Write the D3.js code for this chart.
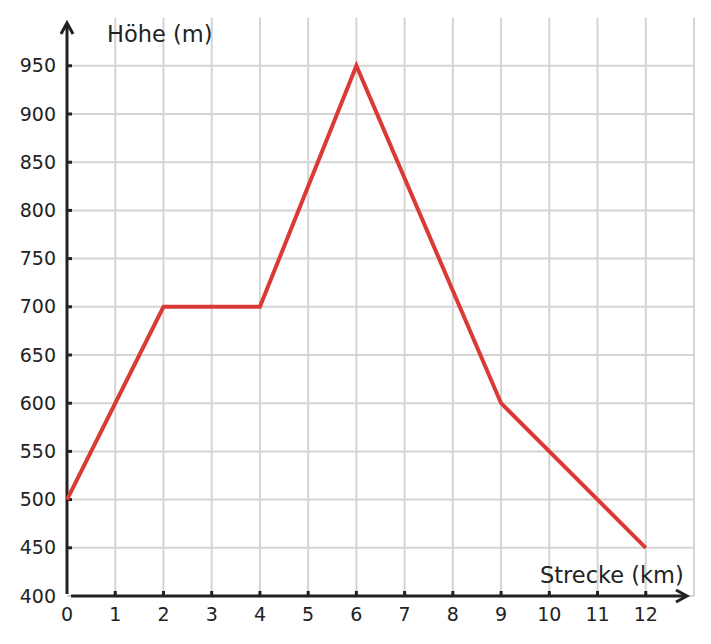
<!DOCTYPE html>
<html lang="de">
<meta charset="utf-8">
<head>
    <title>Höhenprofil</title>
    <script src="https://cdn.jsdelivr.net/npm/d3@7"></script>
    <style>
        body { margin: 0; background: #fff; }
        text { font-family: "DejaVu Sans", sans-serif; fill: #222; }
    </style>
</head>
<body>
<script>
    // Data
    const strecke = [0, 2, 4, 6, 9, 12];
    const hoehe = [500, 700, 700, 950, 600, 450];
    const xTicks = [0, 1, 2, 3, 4, 5, 6, 7, 8, 9, 10, 11, 12];
    const yTicks = [400, 450, 500, 550, 600, 650, 700, 750, 800, 850, 900, 950];

    const width = 711, height = 644;
    const svg = d3.select("body").append("svg")
        .attr("width", width)
        .attr("height", height);

    const x = d3.scaleLinear().domain([0, 13]).range([67, 694]);
    const y = d3.scaleLinear().domain([400, 1000]).range([596, 17.6]);

    // Grid
    const grid = svg.append("g").attr("stroke", "#d4d4d4").attr("stroke-width", 2);
    grid.selectAll(".vg")
        .data(d3.range(1, 14))
        .enter().append("line")
        .attr("x1", d => x(d)).attr("x2", d => x(d))
        .attr("y1", y(1000)).attr("y2", y(400));
    grid.selectAll(".hg")
        .data(yTicks)
        .enter().append("line")
        .attr("x1", x(0)).attr("x2", x(13))
        .attr("y1", d => y(d)).attr("y2", d => y(d));

    // Axes lines with arrows
    const axisColor = "#222";
    svg.append("line")
        .attr("x1", x(0)).attr("x2", x(0))
        .attr("y1", 594).attr("y2", 23)
        .attr("stroke", axisColor).attr("stroke-width", 3);
    svg.append("line")
        .attr("x1", 71).attr("x2", 686)
        .attr("y1", y(400)).attr("y2", y(400))
        .attr("stroke", axisColor).attr("stroke-width", 3);
    svg.append("path")
        .attr("d", `M${x(0) - 6},34 L${x(0)},23 L${x(0) + 6},34`)
        .attr("fill", "none").attr("stroke", axisColor).attr("stroke-width", 3);
    svg.append("path")
        .attr("d", `M676,${y(400) - 6} L687,${y(400)} L676,${y(400) + 6}`)
        .attr("fill", "none").attr("stroke", axisColor).attr("stroke-width", 3);

    // Ticks
    svg.selectAll(".yt")
        .data(yTicks.slice(1))
        .enter().append("line")
        .attr("x1", x(0)).attr("x2", x(0) + 5)
        .attr("y1", d => y(d)).attr("y2", d => y(d))
        .attr("stroke", axisColor).attr("stroke-width", 3);
    svg.selectAll(".xt")
        .data(xTicks.slice(1))
        .enter().append("line")
        .attr("x1", d => x(d)).attr("x2", d => x(d))
        .attr("y1", y(400)).attr("y2", y(400) - 5)
        .attr("stroke", axisColor).attr("stroke-width", 3);

    // Tick labels
    svg.selectAll(".yl")
        .data(yTicks)
        .enter().append("text")
        .attr("x", 56)
        .attr("y", d => y(d))
        .attr("dy", "0.35em")
        .attr("text-anchor", "end")
        .attr("font-size", 19)
        .text(d => d);
    svg.selectAll(".xl")
        .data(xTicks)
        .enter().append("text")
        .attr("x", d => x(d))
        .attr("y", 621)
        .attr("text-anchor", "middle")
        .attr("font-size", 19)
        .text(d => d);

    // Axis titles
    svg.append("text")
        .attr("x", 107).attr("y", 42)
        .attr("font-size", 22.5)
        .text("Höhe (m)");
    svg.append("text")
        .attr("x", 540).attr("y", 583)
        .attr("font-size", 22.5)
        .text("Strecke (km)");

    // Profile line
    const line = d3.line()
        .x((d, i) => x(strecke[i]))
        .y(d => y(d));
    svg.append("path")
        .datum(hoehe)
        .attr("d", line)
        .attr("fill", "none")
        .attr("stroke", "#d93a36")
        .attr("stroke-width", 4)
        .attr("stroke-linejoin", "miter");
</script>
</body>
</html>
